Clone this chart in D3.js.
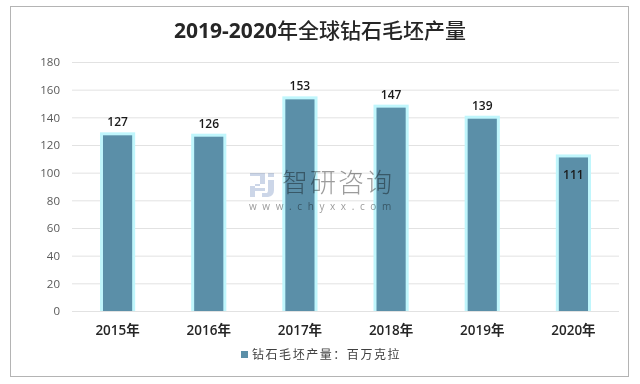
<!DOCTYPE html>
<html>
<head>
<meta charset="utf-8">
<script src="https://cdn.jsdelivr.net/npm/d3@7"></script>
<style>
    html, body { margin: 0; padding: 0; background: #fff; }
    svg { display: block; }
</style>
</head>
<body>
<div id="chart"></div>
<script>
// Dados do grafico
var years = ["2015年", "2016年", "2017年", "2018年", "2019年", "2020年"];
var output = [127, 126, 153, 147, 139, 111];
var yTicks = [0, 20, 40, 60, 80, 100, 120, 140, 160, 180];
var titleLatin = "2019-2020";
var titleCjk = "年全球钻石毛坯产量";
var legendText = "钻石毛坯产量：百万克拉";

var cjk = "'Noto Sans CJK SC', sans-serif";
var latin = "'Open Sans', 'Noto Sans CJK SC', sans-serif";

var svg = d3.select("#chart")
    .append("svg")
    .attr("width", 640)
    .attr("height", 384);

// Moldura
svg.append("rect")
    .attr("x", 10.5)
    .attr("y", 6.5)
    .attr("width", 618)
    .attr("height", 370)
    .attr("fill", "#fff")
    .attr("stroke", "#b4b4b4")
    .attr("stroke-width", 1);

var xScale = d3.scaleBand().domain(years).range([72, 619]).paddingInner(0.68).paddingOuter(0.34);
var yScale = d3.scaleLinear().domain([0, 180]).range([311, 62]);

// Linhas de grade
svg.append("g")
    .selectAll("line")
    .data(yTicks)
    .join("line")
    .attr("x1", 72)
    .attr("x2", 619)
    .attr("y1", function(d) { return yScale(d) + 0.5; })
    .attr("y2", function(d) { return yScale(d) + 0.5; })
    .attr("stroke", "#e2e2e2")
    .attr("stroke-width", 1);

// Eixo y
var yAxis = d3.axisLeft(yScale).tickValues(yTicks).tickSize(0).tickPadding(0);
var yG = svg.append("g")
    .attr("transform", "translate(60,0)")
    .call(yAxis);
yG.select(".domain").remove();
yG.selectAll("text")
    .attr("font-family", latin)
    .attr("font-size", 11.5)
    .attr("fill", "#595959");

// Barras com contorno claro
var glow = svg.append("defs").append("filter").attr("id", "glow");
glow.append("feGaussianBlur").attr("stdDeviation", 0.6);

svg.append("g")
    .selectAll("rect")
    .data(output)
    .join("rect")
    .attr("x", function(d, i) { return xScale(years[i]) - 3; })
    .attr("y", function(d) { return yScale(d) - 3; })
    .attr("width", xScale.bandwidth() + 6)
    .attr("height", function(d) { return yScale(0) - yScale(d) + 3; })
    .attr("fill", "#c0f6fc")
    .attr("filter", "url(#glow)");

svg.append("g")
    .selectAll("rect")
    .data(output)
    .join("rect")
    .attr("x", function(d, i) { return xScale(years[i]); })
    .attr("y", function(d) { return yScale(d); })
    .attr("width", xScale.bandwidth())
    .attr("height", function(d) { return yScale(0) - yScale(d); })
    .attr("fill", "#5b8fa8");

// Marca d'agua
var mark = svg.append("g").style("mix-blend-mode", "multiply");
mark.append("path")
    .attr("d", "M250 173h15v11h-10v4h10v3h-10v6h-5v-11h10v-10h-10z M268 173h6v4h-6z M268 180h6v10q0 6-6 7h-6v-4h5q1 0 1-3z")
    .attr("fill", "#ccd6e8");
mark.append("text")
    .attr("x", 282)
    .attr("y", 192)
    .attr("font-family", cjk)
    .attr("font-size", 26)
    .attr("font-weight", 300)
    .attr("letter-spacing", 2)
    .attr("fill", "#9c9c9c")
    .text("智研咨询");
mark.append("text")
    .attr("x", 249)
    .attr("y", 210)
    .attr("font-family", latin)
    .attr("font-size", 10)
    .attr("letter-spacing", 5.6)
    .attr("fill", "#9c9c9c")
    .text("www.chyxx.com");

// Rotulos dos valores
svg.append("g")
    .selectAll("text")
    .data(output)
    .join("text")
    .attr("x", function(d, i) { return xScale(years[i]) + xScale.bandwidth() / 2; })
    .attr("y", function(d, i) { return i === 5 ? yScale(d) + 22 : yScale(d) - 9; })
    .attr("text-anchor", "middle")
    .attr("font-family", latin)
    .attr("font-size", 12)
    .attr("font-weight", 600)
    .attr("fill", "#1a1a1a")
    .text(function(d) { return d; });

// Eixo x
svg.append("g")
    .selectAll("text")
    .data(years)
    .join("text")
    .attr("x", function(d) { return xScale(d) + xScale.bandwidth() / 2; })
    .attr("y", 335)
    .attr("text-anchor", "middle")
    .attr("font-family", latin)
    .attr("font-size", 13.5)
    .attr("font-weight", 600)
    .attr("fill", "#262626")
    .text(function(d) { return d; });

// Titulo
var title = svg.append("text")
    .attr("x", 320)
    .attr("y", 38)
    .attr("text-anchor", "middle")
    .attr("fill", "#262626");
title.append("tspan")
    .attr("font-family", latin)
    .attr("font-size", 21)
    .attr("font-weight", 700)
    .text(titleLatin);
title.append("tspan")
    .attr("font-family", cjk)
    .attr("font-size", 21)
    .attr("font-weight", 500)
    .text(titleCjk);

// Legenda
svg.append("rect")
    .attr("x", 241)
    .attr("y", 351)
    .attr("width", 7)
    .attr("height", 7)
    .attr("fill", "#5b8fa8");
svg.append("text")
    .attr("x", 252)
    .attr("y", 359)
    .attr("font-family", cjk)
    .attr("font-size", 12)
    .attr("letter-spacing", 1.55)
    .attr("fill", "#404040")
    .text(legendText);
</script>
</body>
</html>
